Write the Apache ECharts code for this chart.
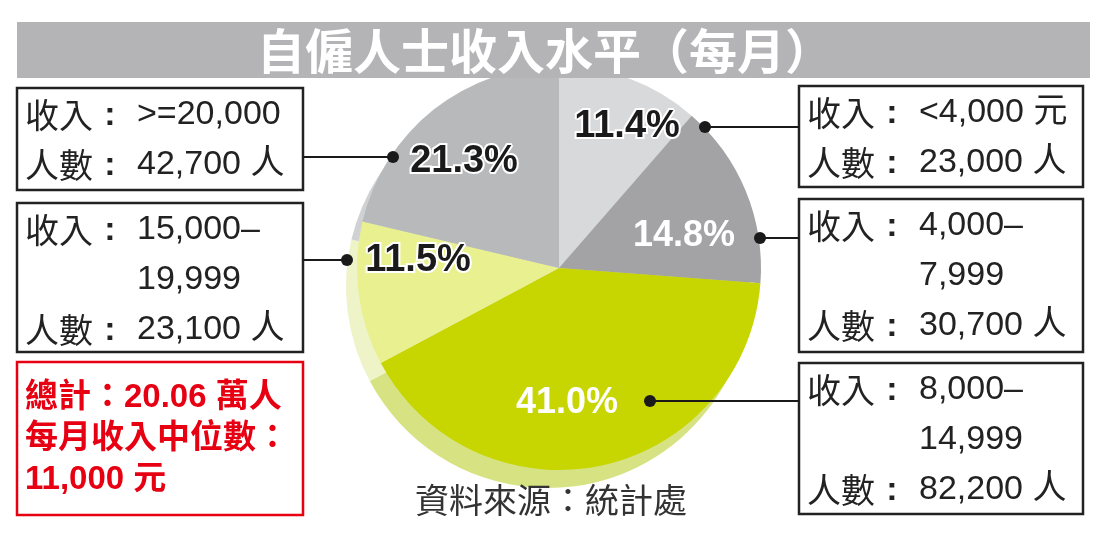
<!DOCTYPE html>
<html>
<head>
<meta charset="utf-8">
<script src="https://cdn.jsdelivr.net/npm/echarts@6/dist/echarts.min.js"></script>
<style>
    html, body { margin: 0; padding: 0; background: #fff; }
    #main { width: 1108px; height: 540px; }
</style>
</head>
<body>
<div id="main"></div>
<script>
// 數據
var categories = ['<4,000 元', '4,000–7,999', '8,000–14,999', '15,000–19,999', '>=20,000'];
var shares = [11.4, 14.8, 41.0, 11.5, 21.3];
var persons = [23000, 30700, 82200, 23100, 42700];
var incomeLines = [['<4,000 元'], ['4,000–', '7,999'], ['8,000–', '14,999'], ['15,000–', '19,999'], ['>=20,000']];
var totalLines = ['總計：20.06 萬人', '每月收入中位數：', '11,000 元'];
var titleText = '自僱人士收入水平（每月）';
var sourceText = '資料來源：統計處';

// 顏色
var sliceColors = ['#d8d9db', '#a3a3a5', '#c7d500', '#e9f08f', '#b8b9bb'];
var shadowColors = ['#e3e4e6', '#c2c2c4', '#d7e382', '#eff3c8', '#d0d1d3'];
var darkLabel = [true, false, false, true, true];

// 版面 (標籤 / 方框 / 引線)
var labelAt = [[627, 127], [684, 236], [567, 403], [418, 261], [464, 162]];
var boxAt = [[799, 86, 284, 101], [799, 199, 284, 153], [799, 363, 284, 151], [17, 203, 286, 149], [17, 88, 286, 102]];
var leader = [[705, 799, 127], [760, 799, 238], [650, 799, 401], [347, 303, 260], [393, 303, 157]];

var latin = 'Liberation Sans, "Noto Sans CJK TC", sans-serif';
var cjk = '"Noto Sans CJK TC", sans-serif';

function fmt(n) {
    return String(n).replace(/\B(?=(\d{3})+(?!\d))/g, ',');
}

var myChart = echarts.init(document.getElementById('main'));

var pieData = [];
var shadowData = [];
for (var i = 0; i < shares.length; i++) {
    pieData.push({
        name: categories[i],
        value: shares[i],
        itemStyle: { color: sliceColors[i] },
        label: darkLabel[i] ? {
            color: '#1a1a1a', fontSize: 38, textBorderColor: '#fff', textBorderWidth: 4
        } : {
            color: '#fff', fontSize: 36
        }
    });
    shadowData.push({ name: categories[i], value: shares[i], itemStyle: { color: shadowColors[i] } });
}

var graphics = [];
// 標題條
graphics.push({
    type: 'rect', z: 100,
    shape: { x: 17, y: 22, width: 1073, height: 56 },
    style: { fill: '#b4b4b6' }
});
graphics.push({
    type: 'text', z: 101, x: 545, y: 51,
    style: {
        text: titleText, fill: '#fff', fontSize: 48, fontWeight: 'bold',
        fontFamily: cjk, textAlign: 'center', textVerticalAlign: 'middle'
    }
});

// 方框
for (var k = 0; k < boxAt.length; k++) {
    var b = boxAt[k];
    graphics.push({
        type: 'rect', z: 50,
        shape: { x: b[0], y: b[1], width: b[2], height: b[3] },
        style: { fill: '#fff', stroke: '#222', lineWidth: 2.5 }
    });
    var rows = [];
    incomeLines[k].forEach(function (t, j) {
        rows.push([j === 0 ? '收入' : '', t]);
    });
    rows.push(['人數', fmt(persons[k]) + ' 人']);
    rows.forEach(function (r, j) {
        var y = b[1] + 27 + j * 50;
        if (r[0]) {
            graphics.push({
                type: 'text', z: 51, x: b[0] + 8, y: y,
                style: { text: r[0], fill: '#222', fontSize: 34, fontFamily: cjk, textVerticalAlign: 'middle' }
            });
            graphics.push({
                type: 'text', z: 51, x: b[0] + 93, y: y + 1,
                style: { text: ':', fill: '#222', fontSize: 34, fontWeight: 'bold', fontFamily: latin, textAlign: 'center', textVerticalAlign: 'middle' }
            });
        }
        graphics.push({
            type: 'text', z: 51, x: b[0] + 120, y: y,
            style: { text: r[1], fill: '#222', fontSize: 34, fontFamily: latin, textVerticalAlign: 'middle' }
        });
    });
    // 引線和圓點
    var ld = leader[k];
    graphics.push({
        type: 'line', z: 60,
        shape: { x1: ld[0], y1: ld[2], x2: ld[1], y2: ld[2] },
        style: { stroke: '#1a1a1a', lineWidth: 2 }
    });
    graphics.push({
        type: 'circle', z: 61,
        shape: { cx: ld[0], cy: ld[2], r: 6 },
        style: { fill: '#1a1a1a' }
    });
}

// 總計方框
graphics.push({
    type: 'rect', z: 50,
    shape: { x: 17, y: 362, width: 286, height: 153 },
    style: { fill: '#fff', stroke: '#e60012', lineWidth: 2.5 }
});
totalLines.forEach(function (t, j) {
    graphics.push({
        type: 'text', z: 51, x: 25, y: 398 + j * 41,
        style: { text: t, fill: '#e60012', fontSize: 33, fontWeight: 'bold', fontFamily: latin, textVerticalAlign: 'middle' }
    });
});

// 資料來源
graphics.push({
    type: 'text', z: 51, x: 551, y: 500,
    style: { text: sourceText, fill: '#333', fontSize: 34, fontFamily: cjk, textAlign: 'center', textVerticalAlign: 'middle' }
});

var option = {
    backgroundColor: '#fff',
    animation: false,
    graphic: { elements: graphics },
    series: [{
        type: 'pie',
        silent: true,
        z: 1,
        center: [548, 286],
        radius: 202,
        startAngle: 90,
        label: { show: false },
        labelLine: { show: false },
        data: shadowData
    }, {
        type: 'pie',
        silent: true,
        z: 2,
        center: [559, 268],
        radius: 202,
        startAngle: 90,
        label: {
            show: true,
            position: 'inside',
            fontFamily: latin,
            fontWeight: 'bold',
            formatter: function (p) {
                return p.value.toFixed(1) + '%';
            }
        },
        labelLine: { show: false },
        labelLayout: function (p) {
            return { x: labelAt[p.dataIndex][0], y: labelAt[p.dataIndex][1], align: 'center', verticalAlign: 'middle' };
        },
        data: pieData
    }]
};

myChart.setOption(option);
</script>
</body>
</html>
